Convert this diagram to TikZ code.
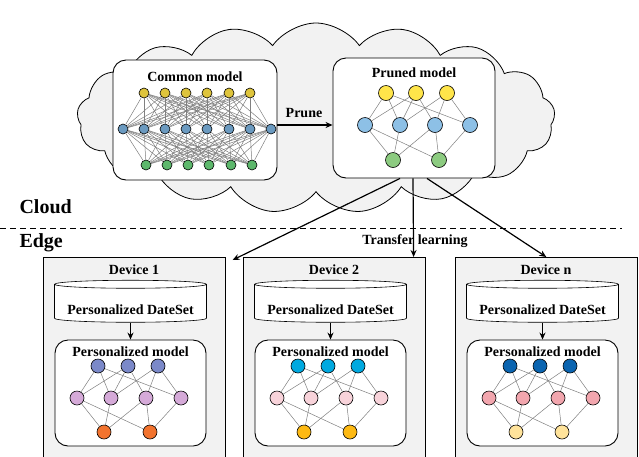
\documentclass[tikz,border=0pt]{standalone}
\usepackage{fontspec}
\setmainfont{Liberation Serif}
\usetikzlibrary{shapes.symbols,shapes.geometric,arrows.meta}

\definecolor{cmyel}{HTML}{DEC43C}
\definecolor{cmblu}{HTML}{6B9AC0}
\definecolor{cmgrn}{HTML}{5DB86C}
\definecolor{pryel}{HTML}{FFE54A}
\definecolor{prblu}{HTML}{8DC0E6}
\definecolor{prgrn}{HTML}{8CCB80}
\definecolor{dAa}{HTML}{7B89C9}
\definecolor{dAb}{HTML}{D5AAD8}
\definecolor{dAc}{HTML}{F2732E}
\definecolor{dBa}{HTML}{00A9E0}
\definecolor{dBb}{HTML}{F8D3DA}
\definecolor{dBc}{HTML}{FDB913}
\definecolor{dCa}{HTML}{0A64B0}
\definecolor{dCb}{HTML}{F2A6AE}
\definecolor{dCc}{HTML}{FFE39B}
\definecolor{bgray}{HTML}{F2F2F2}

\begin{document}
\begin{tikzpicture}[x=1pt,y=-1pt,>={Stealth[length=7pt,width=6pt]},
    txt/.style={font=\fontsize{14}{16}\selectfont\bfseries},
    big/.style={font=\fontsize{20}{22}\selectfont\bfseries},
    box/.style={draw,rounded corners=13pt,fill=white,line width=0.9pt},
    neu/.style={circle,draw,line width=0.6pt,inner sep=0pt,minimum size=#1},
    wire/.style={draw=gray,line width=0.5pt}]
        \useasboundingbox (0,0) rectangle (639,456);

        % cloud part
        \node[cloud,draw,fill=bgray,cloud puffs=17,cloud puff arc=110,cloud ignores aspect,minimum width=478pt,minimum height=190pt,line width=0.8pt] (cld) at (316,118) {};
        \node[box,minimum width=164pt,minimum height=120pt] (cmn) at (195,120) {};
        \node[txt] at (195,77) {Common model};
        \node[box,minimum width=162pt,minimum height=120pt] (prn) at (414,118) {};
        \node[txt] at (414,73) {Pruned model};

        \foreach \i/\x in {1/144,2/165,3/186,4/207,5/229,6/250}
            \node[neu=10pt,fill=cmyel] (cy\i) at (\x,93) {};
        \foreach \i/\x in {1/123,2/144,3/165,4/186,5/207,6/229,7/250,8/271}
            \node[neu=10pt,fill=cmblu] (cb\i) at (\x,129) {};
        \foreach \i/\x in {1/146,2/167,3/188,4/209,5/231,6/252}
            \node[neu=10pt,fill=cmgrn] (cg\i) at (\x,165) {};
        \foreach \i in {1,...,6}
            \foreach \j in {1,...,8} {
                \draw[wire] (cy\i) -- (cb\j);
                \draw[wire] (cg\i) -- (cb\j);
            }

        \foreach \i/\x in {1/386,2/416,3/447}
            \node[neu=15pt,fill=pryel] (py\i) at (\x,93) {};
        \foreach \i/\x in {1/365,2/400,3/435,4/470}
            \node[neu=15pt,fill=prblu] (pb\i) at (\x,125) {};
        \foreach \i/\x in {1/393,2/439}
            \node[neu=15pt,fill=prgrn] (pg\i) at (\x,160) {};
        \foreach \i/\js in {1/{1,2,4},2/{1,2,3},3/{2,3,4}}
            \foreach \j in \js
                \draw[wire] (py\i) -- (pb\j);
        \foreach \j/\ks in {1/{1,2},2/{1},3/{1,2},4/{2}}
            \foreach \k in \ks
                \draw[wire] (pb\j) -- (pg\k);

        \draw[->,line width=1.2pt] ([yshift=-5pt]cmn.east) -- ([yshift=-7pt]prn.west);
        \node[txt] at (304,113) {Prune};

        % cloud / edge split
        \node[big,anchor=west] at (16,207) {Cloud};
        \node[big,anchor=west] at (16,243) {Edge};
        \draw[dash pattern=on 6pt off 4pt,line width=0.8pt] (0,228) -- (622,228);

        % devices
        \foreach \d/\lx/\ca/\cb/\cc in {1/43/dAa/dAb/dAc,2/243/dBa/dBb/dBc,n/455/dCa/dCb/dCc} {
            \node[draw,fill=bgray,line width=0.6pt,anchor=north west,minimum width=182pt,minimum height=210pt] (dev\d) at (\lx,257) {};
            \node[txt] at (\lx+91,270) {Device \d};
            \node[cylinder,shape border rotate=90,draw,fill=white,aspect=1.2,line width=0.6pt,minimum width=152pt,minimum height=42pt] (ds\d) at (\lx+87.5,304) {};
            \node[txt] at (\lx+87.5,310) {Personalized DateSet};
            \node[box,minimum width=151pt,minimum height=106pt] (pm\d) at (\lx+87.5,393) {};
            \node[txt] at (\lx+87.5,352) {Personalized model};
            \draw[->,line width=1pt] (ds\d.south) -- (pm\d.north);
            \foreach \i/\x in {1/55,2/85,3/115}
                \node[neu=14pt,fill=\ca] (d\d-t\i) at (\lx+\x,366) {};
            \foreach \i/\x in {1/34,2/68,3/103,4/138}
                \node[neu=14pt,fill=\cb] (d\d-m\i) at (\lx+\x,398) {};
            \foreach \i/\x in {1/61,2/107}
                \node[neu=14pt,fill=\cc] (d\d-b\i) at (\lx+\x,432) {};
            \foreach \i/\js in {1/{1,2,4},2/{1,2,3},3/{2,3,4}}
                \foreach \j in \js
                    \draw[wire] (d\d-t\i) -- (d\d-m\j);
            \foreach \j/\ks in {1/{1,2},2/{1},3/{1,2},4/{2}}
                \foreach \k in \ks
                    \draw[wire] (d\d-m\j) -- (d\d-b\k);
        }

        % transfer learning
        \draw[->,line width=1.2pt] ([xshift=-14pt]prn.south) -- ([xshift=7pt,yshift=-3pt]dev1.north east);
        \draw[->,line width=1.2pt] ([xshift=-1pt]prn.south) -- ([xshift=-12pt]dev2.north east);
        \draw[->,line width=1.2pt] ([xshift=13pt]prn.south) -- (devn.north);
        \node[txt] at (415,241) {Transfer learning};
\end{tikzpicture}
\end{document}
